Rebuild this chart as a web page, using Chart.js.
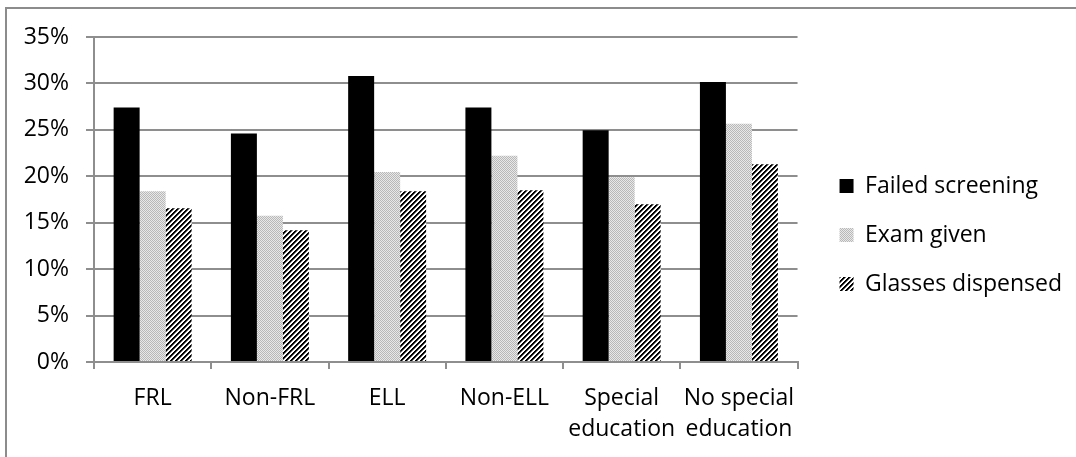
<!DOCTYPE html>
<html>
<head>
<meta charset="utf-8">
<script src="https://cdn.jsdelivr.net/npm/chart.js@4"></script>
<style>
  html, body { margin: 0; padding: 0; background: #ffffff; }
  #wrap { position: relative; width: 1076px; height: 457px; }
</style>
</head>
<body>
<div id="wrap"><canvas id="c" width="1076" height="457"></canvas></div>
<script>
const categories = ['FRL', 'Non-FRL', 'ELL', 'Non-ELL', ['Special', 'education'], ['No special', 'education']];
const failedScreening = [27.4, 24.6, 30.8, 27.4, 24.95, 30.15];
const examGiven = [18.4, 15.75, 20.45, 22.2, 19.9, 25.65];
const glassesDispensed = [16.55, 14.2, 18.4, 18.5, 17.0, 21.3];
const seriesNames = ['Failed screening', 'Exam given', 'Glasses dispensed'];
const yTickMax = 35;
const yTickStep = 5;

function makeDotPattern() {
  const c = document.createElement('canvas');
  c.width = 2; c.height = 2;
  const g = c.getContext('2d');
  g.fillStyle = '#e8e8e8'; g.fillRect(0, 0, 2, 2);
  g.fillStyle = '#b8b8b8'; g.fillRect(0, 0, 1, 1); g.fillRect(1, 1, 1, 1);
  return g.createPattern(c, 'repeat');
}
function makeHatchPattern() {
  const p = 5;
  const c = document.createElement('canvas');
  c.width = p; c.height = p;
  const g = c.getContext('2d');
  const shades = ['#000000', '#000000', '#707070', '#ffffff', '#ffffff'];
  for (let x = 0; x < p; x++) {
    for (let y = 0; y < p; y++) {
      g.fillStyle = shades[(x + y) % p];
      g.fillRect(x, y, 1, 1);
    }
  }
  return g.createPattern(c, 'repeat');
}

const FONT = { family: "'Open Sans', sans-serif", size: 23 };
const GRID = '#8e8e8e';

const framePlugin = {
  id: 'frame',
  beforeDraw(chart) {
    const ctx = chart.ctx;
    ctx.save();
    ctx.fillStyle = '#ffffff';
    ctx.fillRect(0, 0, chart.width, chart.height);
    ctx.strokeStyle = '#8c8c8c';
    ctx.lineWidth = 2;
    ctx.beginPath();
    ctx.moveTo(6, chart.height);
    ctx.lineTo(6, 8);
    ctx.lineTo(chart.width, 8);
    ctx.stroke();
    ctx.restore();
  }
};

const legendShiftPlugin = {
  id: 'legendShift',
  afterLayout(chart) {
    const l = chart.legend;
    if (l) { l.left += 16; l.right += 16; l.top -= 12; l.bottom -= 12; }
  }
};

new Chart(document.getElementById('c'), {
  type: 'bar',
  data: {
    labels: categories,
    datasets: [
      { label: seriesNames[0], data: failedScreening, backgroundColor: '#000000', borderWidth: 0 },
      { label: seriesNames[1], data: examGiven, backgroundColor: makeDotPattern(), borderWidth: 0 },
      { label: seriesNames[2], data: glassesDispensed, backgroundColor: makeHatchPattern(), borderWidth: 0 }
    ]
  },
  options: {
    responsive: false,
    animation: false,
    devicePixelRatio: 1,
    layout: { padding: { top: 37, left: 10, right: 20, bottom: 0 } },
    datasets: { bar: { categoryPercentage: 0.665, barPercentage: 1.0 } },
    plugins: {
      tooltip: { enabled: false },
      legend: {
        position: 'right',
        labels: {
          color: '#000000',
          font: FONT,
          boxWidth: 14,
          boxHeight: 14,
          padding: 26
        }
      }
    },
    scales: {
      x: {
        grid: { display: true, drawOnChartArea: false, drawTicks: true, tickLength: 7, color: GRID, lineWidth: 2, offset: true },
        border: { display: true, color: GRID, width: 2 },
        ticks: { color: '#000000', font: { ...FONT, lineHeight: 1.35 }, padding: 14, maxRotation: 0, autoSkip: false },
        afterFit(scale) { scale.height = 95; }
      },
      y: {
        min: 0,
        max: yTickMax,
        grid: { color: GRID, lineWidth: 2, drawTicks: true, tickLength: 8 },
        border: { display: true, color: GRID, width: 2 },
        ticks: { stepSize: yTickStep, color: '#000000', font: FONT, padding: 17, callback: v => v + '%' },
        afterFit(scale) { scale.width = 84; }
      }
    }
  },
  plugins: [framePlugin, legendShiftPlugin]
});
</script>
</body>
</html>
